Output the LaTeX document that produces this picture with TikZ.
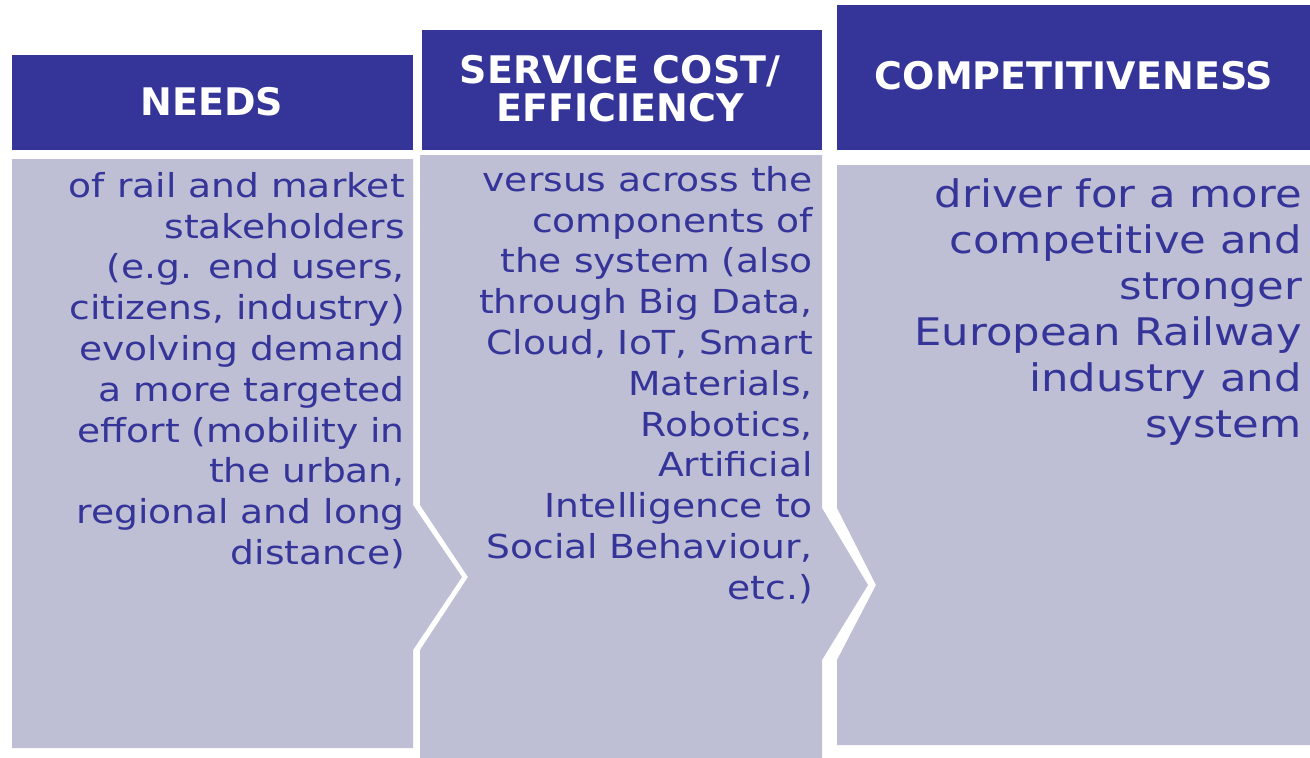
\documentclass[tikz,border=0pt]{standalone}
\usepackage{fontspec}
\setmainfont{DejaVu Sans}
\newfontfamily\bodyfont[FakeStretch=1.14]{DejaVu Sans}
\definecolor{hdr}{RGB}{53,52,153}
\definecolor{bodyfill}{RGB}{190,190,213}
\tikzset{
  hdrbox/.style={fill=hdr, draw=none},
  bodybox/.style={fill=bodyfill, draw=none},
  hdrtext/.style={text=white, font=\fontsize{38}{38}\selectfont\bfseries, align=center, inner sep=0pt},
  bodytext/.style={text=hdr, align=right, inner sep=0pt, anchor=north east},
}
\begin{document}
\begin{tikzpicture}[x=1pt,y=-1pt]
\useasboundingbox (0,0) rectangle (1310,758);
% headers
\fill[hdrbox] (12,55) rectangle (413,150);
\fill[hdrbox] (422,30) rectangle (822,150);
\fill[hdrbox] (837,5) rectangle (1310,150);
% bodies
\fill[bodybox] (12,159) -- (413,159) -- (413,505) -- (462,577) -- (413,650) -- (413,748) -- (12,748) -- cycle;
\fill[bodybox] (420,155) -- (822,155) -- (822,508) -- (868,585) -- (822,660) -- (822,758) -- (420,758) -- (420,650) -- (468,577) -- (420,505) -- cycle;
\fill[bodybox] (837,165) -- (1310,165) -- (1310,745) -- (837,745) -- (837,660) -- (876,585) -- (837,508) -- cycle;
% header texts
\node[hdrtext] (h1) at (212,102) {NEEDS};
\node[hdrtext] (h2) at (620,89) {SERVICE COST/\\EFFICIENCY};
\node[hdrtext] (h3) at (1074,76) {COMPETITIVENESS};
% body texts
\node[bodytext, font=\bodyfont\fontsize{33}{40.8}\selectfont] (b1) at (405,172) {of rail and market\\stakeholders\\(e.g. end users,\\citizens, industry)\\evolving demand\\a more targeted\\effort (mobility in\\the urban,\\regional and long\\distance)};
\node[bodytext, font=\bodyfont\fontsize{33}{40.8}\selectfont] (b2) at (813,166) {versus across the\\components of\\the system (also\\through Big Data,\\Cloud, IoT, Smart\\Materials,\\Robotics,\\Artificial\\Intelligence to\\Social Behaviour,\\etc.)};
\node[bodytext, font=\bodyfont\fontsize{38}{46}\selectfont] (b3) at (1302,178) {driver for a more\\competitive and\\stronger\\European Railway\\industry and\\system};
\end{tikzpicture}
\end{document}
